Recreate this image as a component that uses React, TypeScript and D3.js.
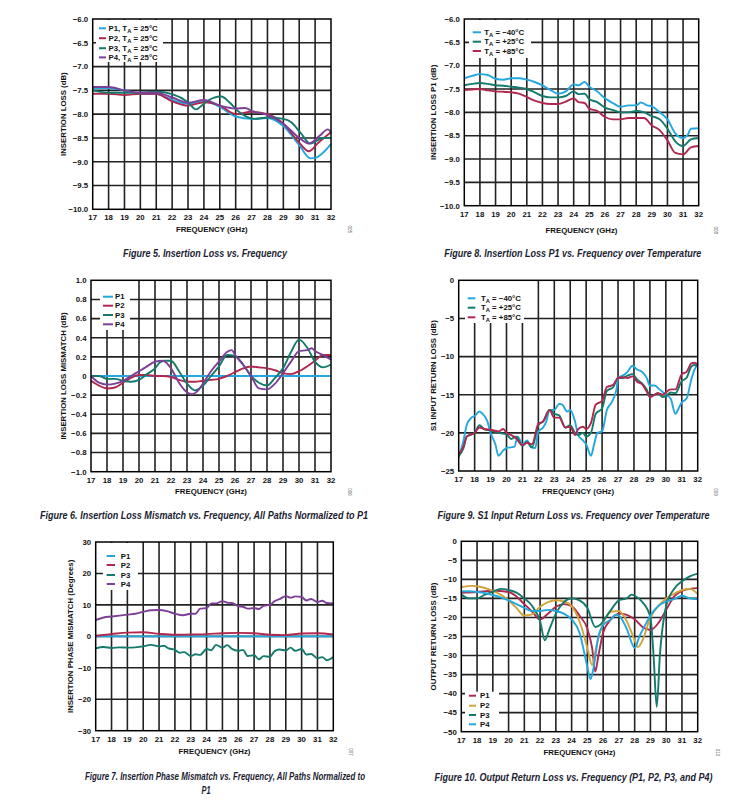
import * as d3 from 'd3';

type Pt = [number, number];

const FREQ_TICKS = d3.range(17, 33);

// Figure 5 - insertion loss, 25 C
const il_P1: Pt[] = [[17,-7.45],[18,-7.45],[19,-7.5],[20,-7.57],[21,-7.58],[22,-7.7],[23,-7.78],[24,-7.72],[25,-7.85],[26,-8.05],[27,-8.1],[28,-8.08],[29,-8.25],[30,-8.65],[30.7,-8.93],[31,-8.92],[32,-8.63]];
const il_P2: Pt[] = [[17,-7.57],[18,-7.57],[19,-7.6],[20,-7.57],[21,-7.57],[22,-7.73],[23,-7.82],[24,-7.75],[25,-7.82],[26,-8.0],[27,-7.95],[28,-8.0],[29,-8.2],[30,-8.6],[30.6,-8.78],[31.2,-8.6],[32,-8.38]];
const il_P3: Pt[] = [[17,-7.5],[18,-7.55],[19,-7.55],[20,-7.55],[21,-7.53],[22,-7.58],[23,-7.75],[23.5,-7.9],[24,-7.78],[24.6,-7.66],[25.1,-7.63],[25.6,-7.75],[26.2,-7.95],[27.2,-8.1],[28,-8.07],[29,-8.1],[29.5,-8.17],[30.1,-8.4],[30.7,-8.62],[31.5,-8.5],[32,-8.5]];
const il_P4: Pt[] = [[17,-7.43],[18,-7.43],[19,-7.5],[20,-7.55],[21,-7.55],[22,-7.65],[23,-7.76],[24,-7.7],[25,-7.82],[26,-7.88],[26.6,-7.87],[27,-7.93],[28,-8.02],[29,-8.2],[30,-8.5],[30.6,-8.62],[31.3,-8.45],[31.8,-8.32],[32,-8.38]];

// Figure 8 - insertion loss P1 over temperature
const ilT_m40: Pt[] = [[17,-7.27],[17.5,-7.22],[18,-7.18],[18.5,-7.2],[19,-7.28],[19.5,-7.3],[20,-7.27],[20.5,-7.27],[21,-7.3],[21.5,-7.35],[22,-7.42],[22.5,-7.52],[23,-7.6],[23.5,-7.55],[24,-7.4],[24.3,-7.42],[24.7,-7.35],[25,-7.45],[25.5,-7.55],[26,-7.7],[26.5,-7.8],[27,-7.88],[27.5,-7.85],[28,-7.85],[28.3,-7.79],[28.7,-7.85],[29,-7.87],[29.5,-8.0],[30,-8.15],[30.5,-8.45],[31,-8.55],[31.3,-8.48],[31.5,-8.35],[32,-8.34]];
const ilT_p25: Pt[] = [[17,-7.42],[17.5,-7.39],[18,-7.37],[18.5,-7.39],[19,-7.42],[19.5,-7.43],[20,-7.45],[20.5,-7.47],[21,-7.5],[21.5,-7.57],[22,-7.65],[22.5,-7.68],[23,-7.68],[23.5,-7.65],[24,-7.55],[24.3,-7.61],[24.7,-7.6],[25,-7.72],[25.5,-7.78],[26,-7.9],[26.5,-7.95],[27,-8.0],[27.5,-8.0],[28,-7.97],[28.5,-8.0],[29,-8.08],[29.5,-8.15],[30,-8.35],[30.5,-8.62],[31,-8.72],[31.5,-8.58],[32,-8.55]];
const ilT_p85: Pt[] = [[17,-7.52],[17.5,-7.51],[18,-7.5],[18.5,-7.53],[19,-7.55],[19.5,-7.56],[20,-7.57],[20.5,-7.6],[21,-7.67],[21.5,-7.75],[22,-7.8],[22.5,-7.82],[23,-7.82],[23.5,-7.77],[24,-7.7],[24.3,-7.78],[24.7,-7.8],[25,-7.92],[25.5,-7.97],[26,-8.1],[26.5,-8.15],[27,-8.15],[27.5,-8.12],[28,-8.12],[28.5,-8.12],[29,-8.28],[29.5,-8.38],[30,-8.6],[30.5,-8.87],[31,-8.9],[31.5,-8.75],[32,-8.72]];

// Figure 6 - insertion loss mismatch
const mm_P1: Pt[] = [[17,0],[32,0]];
const mm_P2: Pt[] = [[17,-0.05],[17.5,-0.1],[18,-0.13],[18.5,-0.12],[19,-0.07],[19.5,-0.02],[20,0.01],[20.5,0.01],[21,0],[21.5,0],[22,-0.01],[22.5,-0.04],[23,-0.06],[23.5,-0.06],[24,-0.05],[24.5,-0.04],[25,-0.03],[25.5,0],[26,0.04],[26.5,0.08],[27,0.1],[27.5,0.09],[28,0.08],[28.5,0.06],[29,0.03],[29.5,0.02],[30,0.05],[30.5,0.1],[31,0.16],[31.5,0.22],[32,0.22]];
const mm_P3: Pt[] = [[17,0],[17.5,0],[18,-0.03],[18.5,-0.03],[19,-0.05],[19.5,-0.06],[20,-0.04],[20.5,0.02],[21,0.08],[21.3,0.14],[21.6,0.16],[22,0.16],[22.5,0.05],[23,-0.08],[23.5,-0.15],[24,-0.1],[24.5,0],[25,0.1],[25.5,0.22],[26,0.21],[26.5,0.12],[27,0],[27.5,-0.07],[28,-0.1],[28.5,-0.02],[29,0.08],[29.5,0.25],[30,0.38],[30.5,0.3],[31,0.15],[31.5,0.09],[32,0.12]];
const mm_P4: Pt[] = [[17,0],[17.5,-0.07],[18,-0.09],[18.5,-0.08],[19,-0.05],[19.5,0],[20,0.05],[20.5,0.1],[21,0.15],[21.5,0.16],[22,0.08],[22.5,-0.07],[23,-0.17],[23.3,-0.19],[23.7,-0.15],[24,-0.08],[24.5,0.05],[25,0.15],[25.5,0.25],[25.8,0.27],[26,0.22],[26.5,0.12],[27,0],[27.5,-0.13],[28,-0.14],[28.5,-0.08],[29,0.03],[29.5,0.15],[30,0.26],[30.5,0.27],[30.8,0.29],[31,0.26],[31.5,0.22],[32,0.17]];

// Figure 9 - S1 input return loss over temperature
const rl_m40: Pt[] = [[17,-23.2],[17.3,-21],[17.5,-19],[17.8,-18],[18,-17.8],[18.3,-17.2],[18.5,-17.5],[18.8,-18.5],[19,-20],[19.3,-21.5],[19.5,-23],[19.8,-22.3],[20,-22],[20.5,-21.8],[20.7,-20.5],[21,-21.5],[21.3,-21],[21.5,-21.8],[21.8,-22],[22,-19.8],[22.3,-19.3],[22.5,-18.5],[22.7,-17],[23,-17],[23.3,-16.2],[23.5,-16.3],[23.8,-17.2],[24,-17],[24.3,-18.5],[24.5,-20.3],[24.8,-21],[25,-21.5],[25.3,-23],[25.5,-21.5],[25.7,-20],[26,-19.8],[26.3,-17],[26.6,-16],[26.9,-14.3],[27,-12.8],[27.3,-12.5],[27.6,-12],[27.9,-11.2],[28.2,-11.7],[28.5,-12],[28.8,-12.8],[29,-13.8],[29.3,-13.8],[29.6,-14.3],[30,-15],[30.3,-15.5],[30.6,-17.5],[30.8,-16.8],[31,-16],[31.3,-15.5],[31.6,-13],[31.8,-11.7],[32,-11]];
const rl_p25: Pt[] = [[17,-23],[17.3,-22],[17.5,-20.5],[18,-20],[18.3,-19],[18.6,-19.5],[19,-19.7],[19.5,-20],[20,-20.2],[20.3,-20.8],[20.6,-20.5],[21,-21.7],[21.3,-21.2],[21.6,-21.9],[22,-19],[22.3,-18.5],[22.7,-17],[23,-17.5],[23.3,-17.7],[23.7,-19.3],[24,-19],[24.3,-20],[24.5,-20.3],[24.8,-20],[25,-20.5],[25.3,-20],[25.6,-17.5],[26,-16.8],[26.3,-14.5],[26.7,-14],[27,-12.8],[27.3,-12.8],[27.6,-12.5],[27.9,-12.3],[28.2,-13],[28.5,-13.5],[28.8,-14.3],[29,-15.2],[29.3,-15],[29.5,-14.8],[29.8,-15.3],[30,-15.2],[30.3,-14.7],[30.6,-14.8],[31,-13.2],[31.3,-12.8],[31.6,-11.3],[31.8,-11.1],[32,-11.2]];
const rl_p85: Pt[] = [[17,-22.8],[17.3,-21.8],[17.5,-20.5],[18,-20],[18.3,-19.3],[18.6,-19.5],[19,-19.6],[19.5,-19.8],[19.8,-19.5],[20,-20],[20.3,-20.3],[20.6,-20.7],[21,-21.6],[21.3,-21.3],[21.6,-21.5],[22,-18.8],[22.3,-18.5],[22.7,-17],[23,-18],[23.3,-18],[23.7,-19.3],[24,-19.2],[24.3,-20.3],[24.5,-19.5],[24.8,-19.2],[25,-19.5],[25.3,-18.7],[25.6,-16.3],[26,-15.8],[26.3,-14],[26.7,-13.7],[27,-12.8],[27.3,-12.7],[27.6,-12.8],[27.9,-12.6],[28.2,-13.3],[28.5,-13.6],[28.8,-14.6],[29,-15.3],[29.3,-15],[29.5,-14.8],[29.8,-15],[30,-14.7],[30.3,-14.3],[30.6,-14.3],[31,-12.3],[31.3,-12],[31.6,-10.9],[31.8,-10.8],[32,-11.1]];

// Figure 7 - insertion phase mismatch
const ph_P1: Pt[] = [[17,0],[32,0]];
const ph_P2: Pt[] = [[17,0.2],[18,0.7],[19,1.2],[20,1.3],[21,0.8],[22,0.5],[23,0.6],[24,0.7],[25,1.0],[26,1.1],[27,1.0],[28,0.5],[29,0.4],[30,0.9],[31,1.0],[32,0.6]];
const ph_P3: Pt[] = [[17,-3.8],[17.5,-3.4],[18,-3.7],[18.5,-3.5],[19,-3.6],[19.5,-3.5],[20,-3.2],[20.5,-2.7],[21,-3.2],[21.3,-3.0],[21.6,-3.8],[22,-4.3],[22.3,-5.2],[22.6,-5.0],[23,-6.3],[23.3,-5.7],[23.6,-5.9],[24,-4.0],[24.3,-4.4],[24.6,-2.7],[25,-3.6],[25.3,-2.8],[25.6,-4.0],[26,-4.6],[26.3,-4.3],[26.6,-6.3],[27,-6.0],[27.3,-7.3],[27.6,-6.3],[28,-6.5],[28.3,-4.7],[28.6,-4.2],[29,-4.5],[29.3,-3.6],[29.6,-4.6],[30,-4.0],[30.3,-5.8],[30.6,-5.6],[31,-7.0],[31.3,-6.6],[31.6,-7.6],[32,-6.6]];
const ph_P4: Pt[] = [[17,5.2],[17.5,6.0],[18,6.3],[18.5,6.6],[19,6.9],[19.5,7.2],[20,7.8],[20.5,8.3],[21,8.4],[21.5,8.0],[22,7.2],[22.5,6.7],[23,7.2],[23.3,7.2],[23.6,8.8],[24,9.0],[24.3,10.5],[24.6,10.5],[25,11.2],[25.3,10.7],[25.6,10.6],[26,9.6],[26.3,9.4],[26.6,8.8],[27,9.0],[27.3,8.7],[27.6,9.7],[28,10.0],[28.3,11.2],[28.6,11.8],[29,12.8],[29.3,12.3],[29.6,12.7],[30,12.5],[30.3,11.4],[30.6,11.9],[31,10.9],[31.3,11.3],[31.6,10.6],[32,10.5]];

// Figure 10 - output return loss
const orl_P1: Pt[] = [[17,-13.5],[18,-13.3],[19,-13.0],[20,-13.3],[20.5,-14.5],[21,-16.5],[21.5,-18.5],[22,-20.5],[22.5,-19],[23,-17.2],[23.5,-16.5],[24,-17],[24.5,-19.5],[25,-23],[25.3,-28],[25.5,-34.2],[25.7,-30],[26,-24],[26.5,-20.5],[27,-19],[27.5,-19.3],[28,-20.5],[28.5,-22.5],[29,-23.3],[29.5,-21.5],[30,-18],[30.5,-14.5],[31,-13],[31.5,-12.5],[32,-12.3]];
const orl_P2: Pt[] = [[17,-12],[17.7,-11.7],[18,-11.8],[19,-13],[19.5,-14],[20,-15.5],[20.5,-17.5],[21,-19.5],[21.5,-19.2],[22,-17.2],[22.5,-16],[23,-15.5],[23.5,-15.8],[24,-17],[24.5,-21],[25,-28],[25.3,-32.5],[25.6,-27],[26,-21.5],[26.5,-18.5],[27,-18.3],[27.5,-21],[28,-26],[28.2,-27.8],[28.5,-26],[29,-20],[29.5,-17],[30,-15],[30.5,-13.8],[31,-12.8],[31.5,-12.5],[32,-13.8]];
const orl_P3: Pt[] = [[17,-14],[17.5,-15],[18,-15],[18.5,-14],[19,-13.2],[19.5,-12.5],[20,-12.8],[20.5,-13.5],[21,-15],[21.5,-17],[22,-21],[22.3,-26],[22.6,-23],[23,-19],[23.5,-16],[24,-15],[24.5,-15.5],[25,-17.5],[25.5,-22.5],[25.8,-22],[26,-21],[26.5,-18],[27,-15.5],[27.5,-15],[27.8,-14],[28,-14.3],[28.5,-16],[29,-20],[29.2,-30],[29.4,-43.5],[29.6,-30],[30,-17],[30.5,-12.5],[31,-10.5],[31.5,-9.2],[32,-8.5]];
const orl_P4: Pt[] = [[17,-13.2],[17.5,-13.1],[18,-13.3],[18.5,-13.6],[19,-14.1],[19.5,-14.7],[20,-15.5],[20.5,-16.5],[21,-17.5],[21.5,-18.3],[22,-18.3],[22.5,-18],[23,-18.3],[23.5,-19],[24,-20.5],[24.5,-24],[25,-33],[25.2,-36.2],[25.4,-33],[25.7,-25],[26,-22],[26.5,-20.5],[26.8,-19.3],[27,-19.5],[27.5,-23],[28,-28],[28.3,-25],[28.8,-21],[29,-19.5],[29.5,-17],[30,-15.8],[30.5,-15.2],[31,-14.3],[31.5,-15],[32,-15.2]];

const IL_TICKS = [-6, -6.5, -7, -7.5, -8, -8.5, -9, -9.5, -10];
const MM_TICKS = [1, 0.8, 0.6, 0.4, 0.2, 0, -0.2, -0.4, -0.6, -0.8, -1];
const RL_TICKS = [0, -5, -10, -15, -20, -25];
const PH_TICKS = [30, 20, 10, 0, -10, -20, -30];
const ORL_TICKS = [0, -5, -10, -15, -20, -25, -30, -35, -40, -45, -50];

const BLUE = '#22a7de';
const RED = '#b0284f';
const TEAL = '#137a6c';
const PURPLE = '#7c3f97';
const GOLD = '#d0a43a';

const FONT = '"Liberation Sans", Arial, sans-serif';
const NARROW = '"Liberation Sans Narrow", "Liberation Sans", Arial, sans-serif';

const minus = (s: string) => s.replace('-', '\u2212');
const fmt1 = (v: number) => minus(v.toFixed(1));
const fmtMM = (v: number) => (v === 0 ? '0' : minus(v.toFixed(1)));
const fmtInt = (v: number) => minus(String(v));

type Series = { data: Pt[]; color: string };
type LegendItem = { color: string; main: string; sub?: string; rest?: string };

interface PanelCfg {
  l: number; r: number; t: number; b: number;
  domain: [number, number];
  ticks: number[];
  fmt: (v: number) => string;
  series: Series[];
  legend: LegendItem[];
  legBox: [number, number, number, number];
  legLineX: [number, number];
  legTextX: number;
  legRowY: number[];
  yTitle: string;
  yTitleX: number;
  xTitleY: number;
  figNo: string;
  figNoX: number;
  captions: { text: string; cx: number; y: number; w: number }[];
}

function Panel({ c }: { c: PanelCfg }) {
  const x = d3.scaleLinear().domain([17, 32]).range([c.l, c.r]);
  const y = d3.scaleLinear().domain(c.domain).range([c.b, c.t]);
  const line = d3
    .line<Pt>()
    .x((d) => x(d[0]))
    .y((d) => y(d[1]))
    .curve(d3.curveMonotoneX);
  const [bx, by, bw, bh] = c.legBox;
  const cy = (c.t + c.b) / 2;
  return (
    <g>
      {FREQ_TICKS.slice(1, -1).map((f) => (
        <line key={'v' + f} x1={x(f)} x2={x(f)} y1={c.t} y2={c.b} stroke="#222" strokeWidth={1.6} />
      ))}
      {c.ticks.slice(1, -1).map((v) => (
        <line key={'h' + v} x1={c.l} x2={c.r} y1={y(v)} y2={y(v)} stroke="#222" strokeWidth={1.6} />
      ))}
      <rect x={bx} y={by} width={bw} height={bh} fill="#fff" />
      {c.series.map((s, i) => (
        <path key={i} d={line(s.data) ?? ''} fill="none" stroke={s.color} strokeWidth={1.9} strokeLinejoin="round" />
      ))}
      <rect x={c.l} y={c.t} width={c.r - c.l} height={c.b - c.t} fill="none" stroke="#000" strokeWidth={1.5} />
      {c.legend.map((it, i) => (
        <g key={'lg' + i}>
          <line x1={c.legLineX[0]} x2={c.legLineX[1]} y1={c.legRowY[i]} y2={c.legRowY[i]} stroke={it.color} strokeWidth={2} />
          <text x={c.legTextX} y={c.legRowY[i] + 2.7} fontSize={7.8} fontWeight="bold" fill="#111" fontFamily={FONT}>
            {it.main}
            {it.sub && (
              <tspan fontSize={5.8} dy={2}>
                {it.sub}
              </tspan>
            )}
            {it.rest && <tspan dy={it.sub ? -2 : 0}>{it.rest}</tspan>}
          </text>
        </g>
      ))}
      {c.ticks.map((v) => (
        <text key={'yt' + v} x={c.l - 4.5} y={y(v) + 2.8} textAnchor="end" fontSize={7.8} fontWeight="bold" fill="#111" fontFamily={FONT}>
          {c.fmt(v)}
        </text>
      ))}
      {FREQ_TICKS.map((f) => (
        <text key={'xt' + f} x={x(f)} y={c.b + 11} textAnchor="middle" fontSize={7.8} fontWeight="bold" fill="#111" fontFamily={FONT}>
          {f}
        </text>
      ))}
      <text x={(c.l + c.r) / 2} y={c.xTitleY} textAnchor="middle" fontSize={7.8} fontWeight="bold" fill="#111" fontFamily={FONT}>
        FREQUENCY (GHz)
      </text>
      <text
        transform={`translate(${c.yTitleX},${cy}) rotate(-90)`}
        textAnchor="middle"
        dy={2.8}
        fontSize={7.8}
        fontWeight="bold"
        fill="#111"
        fontFamily={FONT}
      >
        {c.yTitle}
      </text>
      <text
        transform={`translate(${c.figNoX},${c.xTitleY - 2.5}) rotate(90)`}
        textAnchor="middle"
        fontSize={4.5}
        fill="#555"
        fontFamily={FONT}
      >
        {c.figNo}
      </text>
      {c.captions.map((cap, i) => (
        <text
          key={'cap' + i}
          x={cap.cx}
          y={cap.y}
          textAnchor="middle"
          fontSize={10}
          fontWeight="bold"
          fontStyle="italic"
          fill="#1a1c30"
          fontFamily={NARROW}
          textLength={cap.w}
          lengthAdjust="spacingAndGlyphs"
        >
          {cap.text}
        </text>
      ))}
    </g>
  );
}

const pLeg = (n: string, color: string): LegendItem => ({ color, main: `${n}, T`, sub: 'A', rest: ' = 25°C' });
const tLeg = (t: string, color: string): LegendItem => ({ color, main: 'T', sub: 'A', rest: ` = ${t}°C` });

const panels: PanelCfg[] = [
  {
    l: 92.7, r: 331, t: 19, b: 209.3, domain: [-10, -6], ticks: IL_TICKS, fmt: fmt1,
    series: [
      { data: il_P1, color: BLUE }, { data: il_P2, color: RED },
      { data: il_P3, color: TEAL }, { data: il_P4, color: PURPLE },
    ],
    legend: [pLeg('P1', BLUE), pLeg('P2', RED), pLeg('P3', TEAL), pLeg('P4', PURPLE)],
    legBox: [96, 20, 67, 42], legLineX: [99, 106], legTextX: 108.5, legRowY: [28.3, 38.2, 48.2, 57.4],
    yTitle: 'INSERTION LOSS (dB)', yTitleX: 63, xTitleY: 231.7, figNo: '005', figNoX: 348,
    captions: [{ text: 'Figure 5. Insertion Loss vs. Frequency', cx: 205, y: 257, w: 164 }],
  },
  {
    l: 464.3, r: 698.7, t: 19, b: 205.7, domain: [-10, -6], ticks: IL_TICKS, fmt: fmt1,
    series: [
      { data: ilT_m40, color: BLUE }, { data: ilT_p25, color: TEAL }, { data: ilT_p85, color: RED },
    ],
    legend: [tLeg('\u221240', BLUE), tLeg('+25', TEAL), tLeg('+85', RED)],
    legBox: [469, 20, 62, 38], legLineX: [472.7, 481], legTextX: 484.3, legRowY: [32.3, 41.7, 51],
    yTitle: 'INSERTION LOSS P1 (dB)', yTitleX: 432.7, xTitleY: 232.7, figNo: '008', figNoX: 714,
    captions: [{ text: 'Figure 8. Insertion Loss P1 vs. Frequency over Temperature', cx: 572.7, y: 257, w: 257 }],
  },
  {
    l: 91, r: 331, t: 280.3, b: 471.7, domain: [-1, 1], ticks: MM_TICKS, fmt: fmtMM,
    series: [
      { data: mm_P1, color: BLUE }, { data: mm_P2, color: RED },
      { data: mm_P3, color: TEAL }, { data: mm_P4, color: PURPLE },
    ],
    legend: [
      { color: BLUE, main: 'P1' }, { color: RED, main: 'P2' },
      { color: TEAL, main: 'P3' }, { color: PURPLE, main: 'P4' },
    ],
    legBox: [100, 281, 30, 49], legLineX: [103, 113], legTextX: 115, legRowY: [296.7, 305.7, 315, 324.3],
    yTitle: 'INSERTION LOSS MISMATCH (dB)', yTitleX: 63, xTitleY: 494.4, figNo: '006', figNoX: 348,
    captions: [{ text: 'Figure 6. Insertion Loss Mismatch vs. Frequency, All Paths Normalized to P1', cx: 204, y: 519, w: 328 }],
  },
  {
    l: 458.7, r: 697.7, t: 280.3, b: 471, domain: [-25, 0], ticks: RL_TICKS, fmt: fmtInt,
    series: [
      { data: rl_m40, color: BLUE }, { data: rl_p25, color: TEAL }, { data: rl_p85, color: RED },
    ],
    legend: [tLeg('\u221240', BLUE), tLeg('+25', TEAL), tLeg('+85', RED)],
    legBox: [465, 281, 59, 42], legLineX: [467.7, 475.3], legTextX: 481, legRowY: [298.3, 307.7, 317.3],
    yTitle: 'S1 INPUT RETURN LOSS (dB)', yTitleX: 433.3, xTitleY: 494.4, figNo: '009', figNoX: 714,
    captions: [{ text: 'Figure 9. S1 Input Return Loss vs. Frequency over Temperature', cx: 573.5, y: 519, w: 272 }],
  },
  {
    l: 95.7, r: 333.3, t: 542, b: 730.7, domain: [-30, 30], ticks: PH_TICKS, fmt: fmtInt,
    series: [
      { data: ph_P1, color: BLUE }, { data: ph_P2, color: RED },
      { data: ph_P3, color: TEAL }, { data: ph_P4, color: PURPLE },
    ],
    legend: [
      { color: BLUE, main: 'P1' }, { color: RED, main: 'P2' },
      { color: TEAL, main: 'P3' }, { color: PURPLE, main: 'P4' },
    ],
    legBox: [103, 543, 35, 47], legLineX: [106.7, 115], legTextX: 120.7, legRowY: [556, 565, 575, 584],
    yTitle: 'INSERTION PHASE MISMATCH (Degrees)', yTitleX: 70, xTitleY: 754.4, figNo: '007', figNoX: 349,
    captions: [
      { text: 'Figure 7. Insertion Phase Mismatch vs. Frequency, All Paths Normalized to', cx: 225, y: 779.5, w: 280 },
      { text: 'P1', cx: 206, y: 794, w: 9 },
    ],
  },
  {
    l: 461.3, r: 697.7, t: 541.3, b: 731.7, domain: [-50, 0], ticks: ORL_TICKS, fmt: fmtInt,
    series: [
      { data: orl_P1, color: RED }, { data: orl_P2, color: GOLD },
      { data: orl_P3, color: TEAL }, { data: orl_P4, color: BLUE },
    ],
    legend: [
      { color: RED, main: 'P1' }, { color: GOLD, main: 'P2' },
      { color: TEAL, main: 'P3' }, { color: BLUE, main: 'P4' },
    ],
    legBox: [465, 691.7, 34, 39.3], legLineX: [469, 476], legTextX: 480, legRowY: [695.7, 705.7, 715, 724.3],
    yTitle: 'OUTPUT RETURN LOSS (dB)', yTitleX: 432.7, xTitleY: 755, figNo: '010', figNoX: 716,
    captions: [{ text: 'Figure 10. Output Return Loss vs. Frequency (P1, P2, P3, and P4)', cx: 573.5, y: 780.5, w: 278 }],
  },
];

export default function App() {
  return (
    <svg
      width={752}
      height={804}
      viewBox="0 0 752 804"
      style={{ position: 'absolute', left: 0, top: 0, background: '#fff' }}
    >
      <rect width={752} height={804} fill="#fff" />
      {panels.map((p, i) => (
        <Panel key={i} c={p} />
      ))}
    </svg>
  );
}
